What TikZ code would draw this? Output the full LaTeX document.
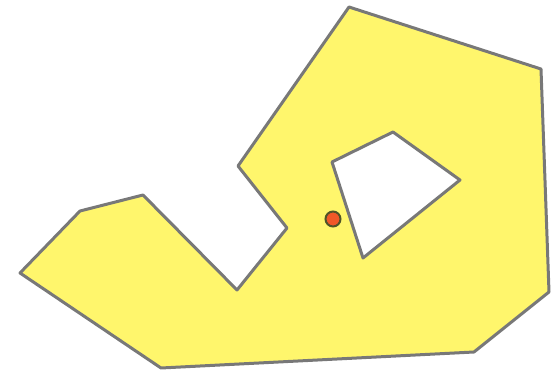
\documentclass[tikz,border=0pt]{standalone}
\definecolor{polyfill}{RGB}{255,246,108}
\definecolor{polyline}{RGB}{120,120,120}
\definecolor{ptfill}{RGB}{240,88,40}
\definecolor{ptline}{RGB}{80,84,40}
\tikzset{
  poly/.style={fill=polyfill, draw=polyline, line width=3pt, line join=round, even odd rule},
  pt/.style={circle, fill=ptfill, draw=ptline, line width=2pt, inner sep=0pt, minimum size=15pt}
}
\begin{document}
\begin{tikzpicture}[x=1pt,y=-1pt]
\useasboundingbox (0,0) rectangle (558,372);
\path[poly] (349,7) -- (541,69) -- (549,292) -- (474,352) -- (161,368) -- (20,273) -- (80,211) -- (143,195) -- (237,290) -- (287,228) -- (238,166) -- cycle
  (332,162) -- (393,132) -- (460,180) -- (363,258) -- cycle;
\node[pt] (p) at (333,219) {};
\end{tikzpicture}
\end{document}
